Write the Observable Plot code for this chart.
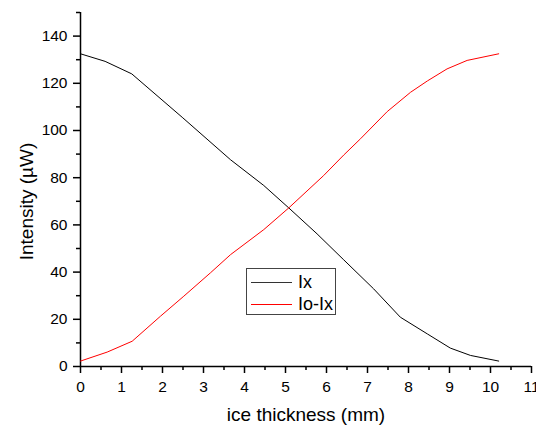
<!DOCTYPE html>
<html>
<head>
<meta charset="utf-8">
<script src="https://cdn.jsdelivr.net/npm/d3@7"></script>
<script src="https://cdn.jsdelivr.net/npm/@observablehq/plot@0.6"></script>
<style>
  html, body { margin: 0; padding: 0; background: white; }
  #wrap { position: relative; width: 536px; height: 426px; font-family: "Liberation Sans", Arial, sans-serif; }
  #legend { position: absolute; left: 246px; top: 268px; width: 88px; height: 45px; border: 1px solid #444; background: white; font-size: 18px; }
  .row { position: absolute; left: 4px; height: 20px; display: flex; align-items: center; }
  .sw { width: 41px; height: 1px; margin-right: 6px; }
</style>
</head>
<body>
<div id="wrap"></div>
<script>
// Data
const ixX = [0, 0.6, 1.25, 2.48, 3.66, 4.47, 5.08, 5.77, 6.42, 7.15, 7.8, 8.46, 9.02, 9.51, 10.2];
const ixY = [132.5, 129.3, 124, 105.6, 87.6, 76.7, 67.2, 56.2, 45.2, 32.9, 20.9, 13.8, 7.8, 4.7, 2.3];
const redX = [0, 0.65, 1.26, 1.95, 2.52, 3.17, 3.66, 4.47, 5.08, 5.93, 6.42, 6.83, 7.48, 8.05, 8.46, 8.94, 9.43, 10.2];
const redY = [2.3, 6.1, 10.7, 21.3, 29.8, 39.7, 47.4, 58.0, 67.2, 80.9, 89.6, 96.5, 108.0, 116.2, 121.0, 126.1, 129.7, 132.5];
const seriesNames = ["Ix", "Io-Ix"];
const seriesColors = ["#000000", "#ff0000"];
const xMajor = d3.range(0, 12, 1);
const xMinor = d3.range(0.5, 11, 1);
const yMajor = d3.range(0, 160, 20);
const yMinor = d3.range(10, 160, 20);
const xTitle = "ice thickness (mm)";
const yTitle = "Intensity (µW)";

const ixData = ixX.map((x, i) => ({x, y: ixY[i]}));
const redData = redX.map((x, i) => ({x, y: redY[i]}));

const plot = Plot.plot({
  width: 536,
  height: 426,
  marginLeft: 80,
  marginRight: 5,
  marginTop: 12,
  marginBottom: 60,
  style: {fontFamily: "'Liberation Sans', Arial, sans-serif", fontSize: "15.5px", background: "white", color: "black", overflow: "visible"},
  x: {domain: [0, 11]},
  y: {domain: [0, 150]},
  marks: [
    Plot.axisX({ticks: xMajor, tickSize: 7, tickPadding: 7, tickFormat: d => String(d), strokeWidth: 1.5, label: null, fontSize: 15.5}),
    Plot.axisX({ticks: xMinor, tickSize: 4, tickFormat: () => "", strokeWidth: 1.5, label: null}),
    Plot.axisY({ticks: yMajor, tickSize: 7, tickPadding: 6, tickFormat: d => String(d), strokeWidth: 1.5, label: null, fontSize: 15.5}),
    Plot.axisY({ticks: yMinor, tickSize: 4, tickFormat: () => "", strokeWidth: 1.5, label: null}),
    Plot.ruleX([0], {stroke: "black", strokeWidth: 1.5}),
    Plot.ruleY([0], {stroke: "black", strokeWidth: 1.5}),
    Plot.line(ixData, {x: "x", y: "y", stroke: seriesColors[0], strokeWidth: 1}),
    Plot.line(redData, {x: "x", y: "y", stroke: seriesColors[1], strokeWidth: 1}),
    Plot.text([xTitle], {frameAnchor: "bottom", dy: 48.5, fontSize: 19, lineAnchor: "middle", textAnchor: "middle"}),
    Plot.text([yTitle], {frameAnchor: "left", rotate: -90, dx: -54, dy: 12, fontSize: 19, lineAnchor: "middle", textAnchor: "middle"})
  ]
});

const wrap = document.getElementById("wrap");
wrap.appendChild(plot);

const legend = document.createElement("div");
legend.id = "legend";
seriesNames.forEach((name, i) => {
  const row = document.createElement("div");
  row.className = "row";
  row.style.top = (3.4 + i * 21.6) + "px";
  const sw = document.createElement("div");
  sw.className = "sw";
  sw.style.background = i === 0 ? "#333" : seriesColors[i];
  const t = document.createElement("span");
  t.textContent = name;
  row.appendChild(sw);
  row.appendChild(t);
  legend.appendChild(row);
});
wrap.appendChild(legend);
</script>
</body>
</html>
